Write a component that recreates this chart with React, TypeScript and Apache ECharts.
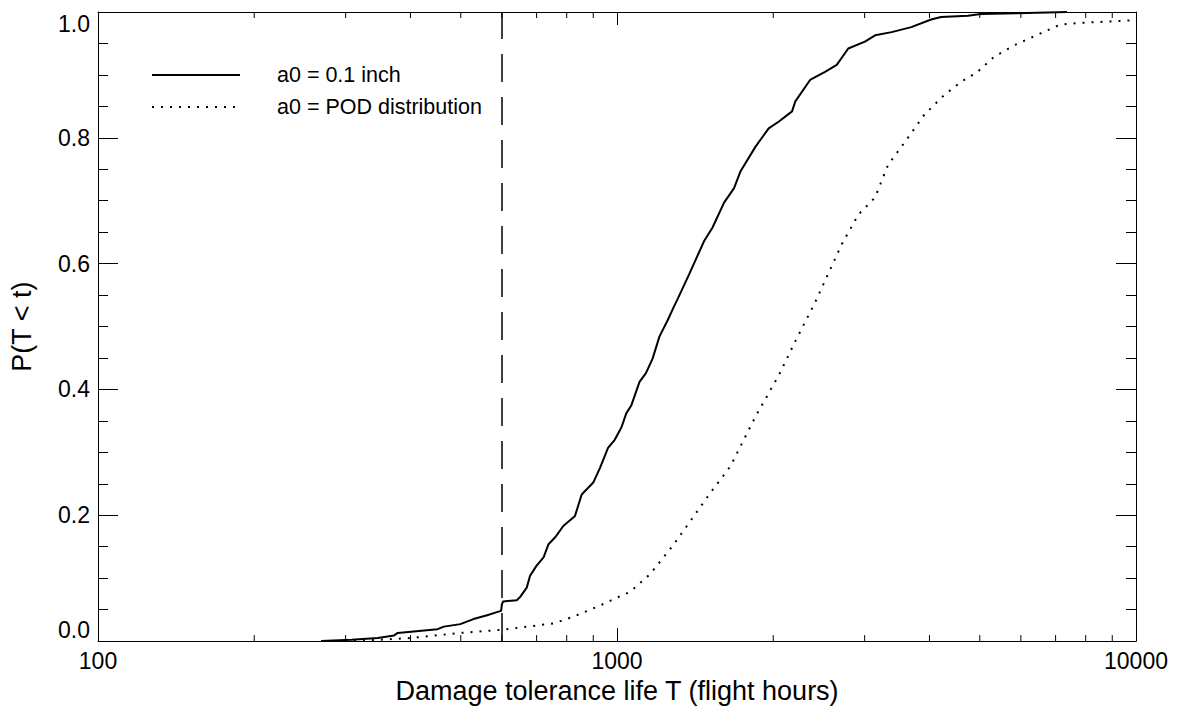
import React, { useEffect, useRef } from "react";
import * as echarts from "echarts";

// Solid curve: a0 = 0.1 inch (T in flight hours, cumulative probability)
const solidT = [269, 308, 346, 372, 378, 451, 464, 499, 529, 562, 587, 598, 600, 603, 641, 652, 670, 680, 700, 722, 738, 760, 788, 830, 855, 900, 927, 961, 990, 1019, 1042, 1066, 1105, 1137, 1171, 1207, 1252, 1288, 1309, 1377, 1472, 1527, 1608, 1681, 1730, 1849, 1960, 2051, 2174, 2206, 2355, 2517, 2651, 2790, 3004, 3143, 3383, 3690, 4030, 4213, 4745, 5021, 5900, 7364];
const solidP = [0, 0.002, 0.005, 0.009, 0.013, 0.019, 0.023, 0.027, 0.035, 0.041, 0.046, 0.048, 0.058, 0.063, 0.065, 0.071, 0.085, 0.104, 0.12, 0.133, 0.154, 0.165, 0.183, 0.199, 0.233, 0.252, 0.275, 0.307, 0.32, 0.339, 0.362, 0.375, 0.412, 0.426, 0.449, 0.484, 0.51, 0.532, 0.544, 0.583, 0.636, 0.657, 0.697, 0.72, 0.747, 0.786, 0.815, 0.826, 0.842, 0.858, 0.892, 0.905, 0.916, 0.942, 0.953, 0.963, 0.968, 0.976, 0.988, 0.992, 0.994, 0.997, 0.998, 1.0];

// Dotted curve: a0 = POD distribution
const dotT = [299, 330, 401, 499, 600, 754, 800, 836, 913, 1012, 1058, 1157, 1279, 1399, 1505, 1654, 1849, 2051, 2204, 2410, 2711, 2918, 3141, 3329, 3635, 3911, 4272, 4603, 4954, 5331, 5823, 6549, 7146, 7925, 8919, 9885];
const dotP = [0, 0.001, 0.005, 0.013, 0.018, 0.028, 0.035, 0.041, 0.054, 0.071, 0.078, 0.106, 0.151, 0.196, 0.233, 0.278, 0.357, 0.423, 0.476, 0.539, 0.631, 0.678, 0.705, 0.757, 0.8, 0.837, 0.868, 0.889, 0.905, 0.929, 0.947, 0.966, 0.98, 0.983, 0.985, 0.987];

const inspectionT = 600;
const xMinorTicks = [200, 300, 400, 500, 600, 700, 800, 900, 2000, 3000, 4000, 5000, 6000, 7000, 8000, 9000];
const legendLabels = ["a0 = 0.1 inch", "a0 = POD distribution"];
const xTitle = "Damage tolerance life T (flight hours)";
const yTitle = "P(T < t)";

const FONT = "'Liberation Sans', Arial, Helvetica, sans-serif";

export default function App() {
  const ref = useRef<HTMLDivElement>(null);
  useEffect(() => {
    document.body.style.margin = "0";
    const chart = echarts.init(ref.current!, null, { renderer: "svg" });
    const axisLine = { show: true, onZero: false, lineStyle: { color: "#000", width: 1 } };
    const yCommon = {
      type: "value" as const,
      min: 0,
      max: 1,
      interval: 0.2,
      axisLine,
      axisTick: { show: true, inside: true, length: 20, lineStyle: { color: "#000" } },
      minorTick: { show: true, splitNumber: 4, length: 10, lineStyle: { color: "#000" } },
      splitLine: { show: false },
      minorSplitLine: { show: false },
    };
    const xCommon = {
      type: "log" as const,
      logBase: 10,
      min: 100,
      max: 10000,
      axisLine,
      axisTick: { show: true, inside: true, length: 13, lineStyle: { color: "#000" } },
      splitLine: { show: false },
    };
    const option: any = {
      animation: false,
      backgroundColor: "#fff",
      textStyle: { fontFamily: FONT, color: "#000" },
      grid: { left: 92, right: 55, top: 12, bottom: 65, containLabel: false },
      xAxis: [
        {
          ...xCommon,
          position: "bottom",
          name: xTitle,
          nameLocation: "middle",
          nameGap: 31,
          nameTextStyle: { fontSize: 27, fontFamily: FONT, color: "#000" },
          axisLabel: {
            show: true,
            fontSize: 23,
            fontFamily: FONT,
            color: "#000",
            margin: 8,
            formatter: (v: number) => String(Math.round(v)),
          },
        },
        { ...xCommon, position: "top", axisLabel: { show: false } },
      ],
      yAxis: [
        {
          ...yCommon,
          position: "left",
          name: yTitle,
          nameLocation: "middle",
          nameGap: 63,
          nameRotate: 90,
          nameTextStyle: { fontSize: 27, fontFamily: FONT, color: "#000" },
          axisLabel: {
            show: true,
            fontSize: 23,
            fontFamily: FONT,
            color: "#000",
            margin: 8,
            formatter: (v: number) => v.toFixed(1),
            verticalAlignMinLabel: "bottom",
            verticalAlignMaxLabel: "top",
          },
        },
        { ...yCommon, position: "right", axisLabel: { show: false } },
      ],
      series: [
        {
          type: "line",
          name: legendLabels[0],
          data: solidT.map((t, i) => [t, solidP[i]]),
          showSymbol: false,
          symbol: "none",
          lineStyle: { color: "#000", width: 2 },
          clip: true,
          markLine: {
            silent: true,
            symbol: "none",
            label: { show: false },
            lineStyle: { color: "#000", width: 1.5, type: [28, 15] },
            data: [[{ coord: [inspectionT, 0] }, { coord: [inspectionT, 1] }]],
          },
        },
        {
          type: "line",
          name: legendLabels[1],
          data: dotT.map((t, i) => [t, dotP[i]]),
          showSymbol: false,
          symbol: "none",
          lineStyle: { color: "#000", width: 2, type: [2, 7] },
          clip: true,
        },
        {
          type: "custom",
          data: xMinorTicks.map((v) => [v, 0]),
          encode: { x: 0, y: 1 },
          silent: true,
          clip: false,
          renderItem: (_params: any, api: any) => {
            const v = api.value(0);
            const b = api.coord([v, 0]);
            const t = api.coord([v, 1]);
            return {
              type: "group",
              children: [
                { type: "line", shape: { x1: b[0], y1: b[1], x2: b[0], y2: b[1] - 6 }, style: { stroke: "#000", lineWidth: 1 } },
                { type: "line", shape: { x1: t[0], y1: t[1], x2: t[0], y2: t[1] + 6 }, style: { stroke: "#000", lineWidth: 1 } },
              ],
            };
          },
        },
      ],
      graphic: [
        { type: "line", shape: { x1: 152, y1: 75, x2: 240, y2: 75 }, style: { stroke: "#000", lineWidth: 2 } },
        { type: "line", shape: { x1: 152, y1: 107, x2: 240, y2: 107 }, style: { stroke: "#000", lineWidth: 2, lineDash: [2, 7] } },
        { type: "text", x: 277, y: 75, style: { text: legendLabels[0], font: `21.5px ${FONT}`, fill: "#000", verticalAlign: "middle", align: "left" } },
        { type: "text", x: 277, y: 107, style: { text: legendLabels[1], font: `21.5px ${FONT}`, fill: "#000", verticalAlign: "middle", align: "left" } },
      ],
    };
    chart.setOption(option);
    return () => chart.dispose();
  }, []);
  return <div ref={ref} style={{ width: 1191, height: 709 }} />;
}
